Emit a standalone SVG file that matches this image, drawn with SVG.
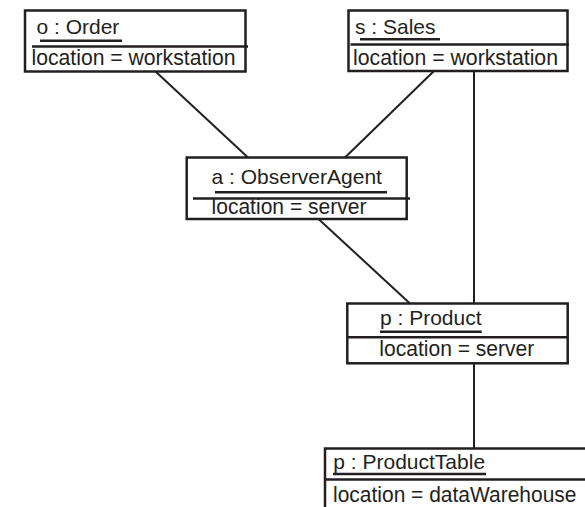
<svg xmlns="http://www.w3.org/2000/svg" width="585" height="507" viewBox="0 0 585 507">
<style>
.box{fill:#fff;stroke:#231f20;stroke-width:2.5}
.rule{stroke:#231f20;stroke-width:2.5;fill:none}
.conn{stroke:#231f20;stroke-width:2;fill:none}
.hd{font-family:"Liberation Sans",Arial,sans-serif;font-size:21px;fill:#231f20}
.at{font-family:"Liberation Sans",Arial,sans-serif;font-size:21.3px;fill:#231f20}
</style>
<rect width="585" height="507" fill="#fff"/>
<g id="connectors">
<line class="conn" x1="155" y1="71" x2="248" y2="157.5"/>
<line class="conn" x1="434" y1="71" x2="345" y2="157.5"/>
<line class="conn" x1="318.5" y1="219" x2="410" y2="303.5"/>
<line class="conn" x1="474" y1="71" x2="474" y2="303.5"/>
<line class="conn" x1="474" y1="363" x2="474" y2="448.5"/>
</g>
<g id="order">
<rect class="box" x="25" y="10.5" width="220.5" height="61"/>
<text class="hd" x="36.5" y="34">o : Order</text>
<line class="rule" x1="40" y1="40.7" x2="122" y2="40.7"/>
<line class="rule" x1="32" y1="46.5" x2="248" y2="46.5"/>
<text class="at" x="31.5" y="65" textLength="204" lengthAdjust="spacingAndGlyphs">location = workstation</text>
</g>
<g id="sales">
<rect class="box" x="348.5" y="10.5" width="219" height="60.5"/>
<text class="hd" x="355" y="34">s : Sales</text>
<line class="rule" x1="360" y1="39.3" x2="440" y2="39.3"/>
<line class="rule" x1="350.5" y1="44.5" x2="569" y2="44.5"/>
<text class="at" x="353" y="65" textLength="205" lengthAdjust="spacingAndGlyphs">location = workstation</text>
</g>
<g id="agent">
<rect class="box" x="186.7" y="157.5" width="220" height="61.5"/>
<text class="hd" x="211.5" y="184">a : ObserverAgent</text>
<line class="rule" x1="215" y1="192.3" x2="387" y2="192.3"/>
<line class="rule" x1="193" y1="198.5" x2="410" y2="198.5"/>
<text class="at" x="211.5" y="214" textLength="155" lengthAdjust="spacingAndGlyphs">location = server</text>
</g>
<g id="product">
<rect class="box" x="347.3" y="303.5" width="220.4" height="59.8"/>
<text class="hd" x="380" y="325">p : Product</text>
<line class="rule" x1="380" y1="331.7" x2="481.7" y2="331.7"/>
<line class="rule" x1="347.3" y1="337.3" x2="567.7" y2="337.3"/>
<text class="at" x="379.3" y="356" textLength="155" lengthAdjust="spacingAndGlyphs">location = server</text>
</g>
<g id="productTable">
<rect class="box" x="325" y="448.5" width="280" height="80"/>
<text class="hd" x="333.3" y="469">p : ProductTable</text>
<line class="rule" x1="333" y1="474" x2="486" y2="474"/>
<line class="rule" x1="325" y1="479.5" x2="585" y2="479.5"/>
<text class="at" x="333" y="502" textLength="243.5" lengthAdjust="spacingAndGlyphs">location = dataWarehouse</text>
</g>
</svg>
